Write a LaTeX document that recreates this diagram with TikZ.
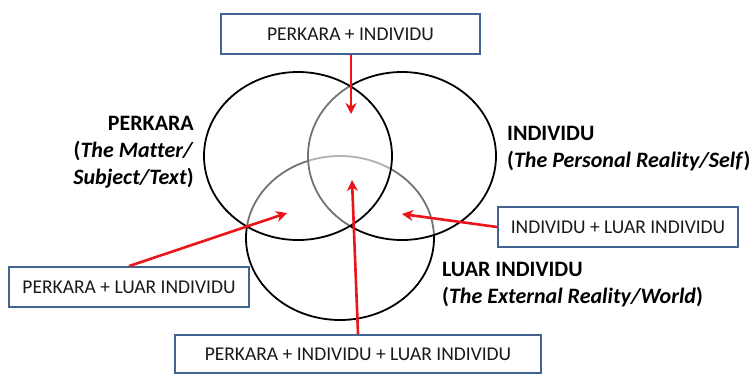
\documentclass[tikz,border=0pt]{standalone}
\usepackage{fontspec}
\setmainfont{Carlito}[Ligatures=CommonOff]
\usetikzlibrary{arrows.meta}
\definecolor{boxblue}{RGB}{65,100,145}
\definecolor{arrred}{RGB}{235,20,25}
\begin{document}
\begin{tikzpicture}[x=1pt,y=-1pt,
  lbox/.style={draw=boxblue,line width=1.8pt,fill=white,inner sep=0pt,minimum height=40pt,
    font=\fontsize{19.5}{23}\selectfont,text=black!90},
  ring/.style={draw=black,line width=1.8pt,fill=white,fill opacity=0.45},
  redarr/.style={draw=arrred,line width=2.6pt,-{Stealth[length=11pt,width=11pt,inset=3.5pt]}},
  biglabel/.style={inner sep=0pt,font=\fontsize{22}{27}\selectfont}]
\useasboundingbox (0,0) rectangle (755,375);
% circles: bottom first, then right, then left
\path[ring] (340,238) ellipse [x radius=94,y radius=82];
\path[ring] (402,156) ellipse [x radius=94,y radius=84];
\path[ring] (298,156) ellipse [x radius=94,y radius=84];
% labels
\node[biglabel,anchor=east,align=right] (lp) at (194,152)
  {\textbf{PERKARA}\\\textbf{(\textit{The Matter/}}\\\textbf{\textit{Subject/Text})}};
\node[biglabel,anchor=west,align=left] (li) at (507,148.5)
  {\textbf{INDIVIDU}\\\textbf{(\textit{The Personal Reality/Self})}};
\node[biglabel,anchor=west,align=left] (ll) at (442,285)
  {\textbf{LUAR INDIVIDU}\\\textbf{(\textit{The External Reality/World})}};
% boxes
\node[lbox,minimum width=259pt] (top) at (350.5,34) {PERKARA + INDIVIDU};
\node[lbox,minimum width=240pt] (rb) at (618,227) {INDIVIDU + LUAR INDIVIDU};
\node[lbox,minimum width=240pt] (lb) at (129,287) {PERKARA + LUAR INDIVIDU};
\node[lbox,minimum width=366pt,minimum height=38pt] (bb) at (358,354) {PERKARA + INDIVIDU + LUAR INDIVIDU};
% arrow targets
\coordinate (tPI) at (351,114);
\coordinate (tIL) at (402,214);
\coordinate (tPL) at (287,213);
\coordinate (tAll) at (352,180);
% arrows
\draw[redarr] (top.south -| tPI) -- (tPI);
\draw[redarr] (rb.west) -- (tIL);
\draw[redarr] (lb.north) -- (tPL);
\draw[redarr] (bb.north) -- (tAll);
\end{tikzpicture}
\end{document}
